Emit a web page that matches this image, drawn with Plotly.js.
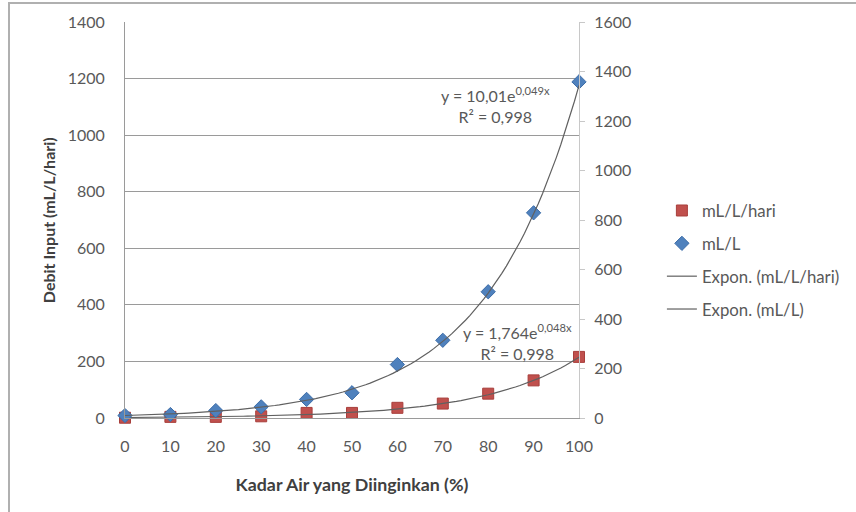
<!DOCTYPE html>
<html>
<head>
<meta charset="utf-8">
<script src="https://cdn.plot.ly/plotly-3.0.1.min.js"></script>
<style>
  html, body { margin: 0; padding: 0; background: #fff; }
  #wrap { position: relative; width: 856px; height: 512px; }
  #frame { position: absolute; left: 8px; top: 2px; width: 848px; height: 510px;
           border-left: 2px solid #b0b0b0; border-top: 2px solid #b0b0b0; box-sizing: border-box; pointer-events: none; }
  #chart { position: absolute; left: 0; top: 0; width: 856px; height: 512px; }
</style>
</head>
<body>
<div id="wrap">
  <div id="chart"></div>
  <div id="frame"></div>
</div>
<script>
// ---- data ----
const kadarAir = [0, 10, 20, 30, 40, 50, 60, 70, 80, 90, 100];
const mLLhari = [1, 4, 4, 6, 18, 18, 36, 51, 86, 133, 216];      // left axis
const mLL     = [10, 14, 30, 45, 75, 102, 216, 314, 510, 829, 1358]; // right axis
const xTicks = [0, 10, 20, 30, 40, 50, 60, 70, 80, 90, 100];
const leftTicks = [0, 200, 400, 600, 800, 1000, 1200, 1400];
const rightTicks = [0, 200, 400, 600, 800, 1000, 1200, 1400, 1600];
// trendline coefficients as printed on the chart: y = a * e^(b x)
const trendA = [1.764, 10.01];
const trendB = [0.048, 0.049];
const trendLabels = ['y = 1,764e<sup>0,048x</sup><br>R² = 0,998', 'y = 10,01e<sup>0,049x</sup><br>R² = 0,998'];
const yTitle = 'Debit Input (mL/L/hari)';
const xTitle = 'Kadar Air yang Diinginkan (%)';

const trendX = [];
for (let i = 0; i <= 100; i++) trendX.push(i);
const trendY = (k) => trendX.map(x => trendA[k] * Math.exp(trendB[k] * x));

const font = 'Lato, "Open Sans", sans-serif';
const txt = '#595959';

const traces = [
  { x: kadarAir, y: mLLhari, name: 'mL/L/hari', type: 'scatter', mode: 'markers', yaxis: 'y', legendgroup: 'a',
    marker: { symbol: 'square', size: 11, color: '#C0504D', line: { color: '#a83f3c', width: 1 } }, cliponaxis: false },
  { x: kadarAir, y: mLL, name: 'mL/L', type: 'scatter', mode: 'markers', yaxis: 'y2', legendgroup: 'b',
    marker: { symbol: 'diamond', size: 11, color: '#4F81BD', line: { color: '#3d6da8', width: 1 } }, cliponaxis: false },
  { x: trendX, y: trendY(0), name: 'Expon. (mL/L/hari)', type: 'scatter', mode: 'lines', yaxis: 'y', legendgroup: 'c',
    line: { color: '#606060', width: 1.2 }, cliponaxis: false },
  { x: trendX, y: trendY(1), name: 'Expon. (mL/L)', type: 'scatter', mode: 'lines', yaxis: 'y2', legendgroup: 'd',
    line: { color: '#606060', width: 1.2 }, cliponaxis: false }
];

const layout = {
  width: 856, height: 512,
  margin: { l: 125, r: 276, t: 22, b: 94 },
  paper_bgcolor: '#ffffff', plot_bgcolor: '#ffffff',
  font: { family: font, size: 16, color: txt },
  showlegend: true,
  legend: { x: 1.18, xanchor: 'left', y: 0.568, yanchor: 'top', font: { size: 16.8, color: txt },
            tracegroupgap: 8, itemwidth: 30, borderwidth: 0, bgcolor: 'rgba(0,0,0,0)' },
  xaxis: {
    range: [0, 100], tickvals: xTicks, ticktext: xTicks.map(String),
    showgrid: false, zeroline: false, showline: true, linecolor: '#9a9a9a', linewidth: 1,
    ticks: '', ticklabelstandoff: 14, tickfont: { size: 16, color: txt },
    title: { text: '<b>' + xTitle + '</b>', font: { size: 17.8, color: '#404040' }, standoff: 24 }
  },
  yaxis: {
    range: [0, 1400], tickvals: leftTicks, ticktext: leftTicks.map(String),
    showgrid: true, gridcolor: '#9a9a9a', gridwidth: 1, zeroline: false,
    showline: true, linecolor: '#9a9a9a', linewidth: 1,
    ticks: '', ticklabelstandoff: 16, tickfont: { size: 16, color: txt }
  },
  yaxis2: {
    range: [0, 1600], tickvals: rightTicks, ticktext: rightTicks.map(String),
    overlaying: 'y', side: 'right', anchor: 'x',
    showgrid: false, zeroline: false, showline: true, linecolor: '#c8c8c8', linewidth: 1,
    ticks: 'outside', ticklen: 5, tickcolor: '#c8c8c8', tickfont: { size: 16, color: txt }, ticklabelstandoff: 6
  },
  annotations: [
    { xref: 'x', yref: 'y', x: 86.5, y: 270, text: trendLabels[0], showarrow: false, align: 'center',
      font: { size: 16, color: txt }, xanchor: 'center', yanchor: 'middle' },
    { xref: 'x', yref: 'y', x: 81.5, y: 1105, text: trendLabels[1], showarrow: false, align: 'center',
      font: { size: 16, color: txt }, xanchor: 'center', yanchor: 'middle' },
    { xref: 'paper', yref: 'paper', x: (48 - 125) / 455, y: (418 - 220) / 396, text: '<b>' + yTitle + '</b>',
      textangle: -90, showarrow: false, xanchor: 'center', yanchor: 'middle',
      font: { size: 16, color: '#404040' } }
  ]
};

Plotly.newPlot('chart', traces, layout, { displayModeBar: false, staticPlot: true });
</script>
</body>
</html>
